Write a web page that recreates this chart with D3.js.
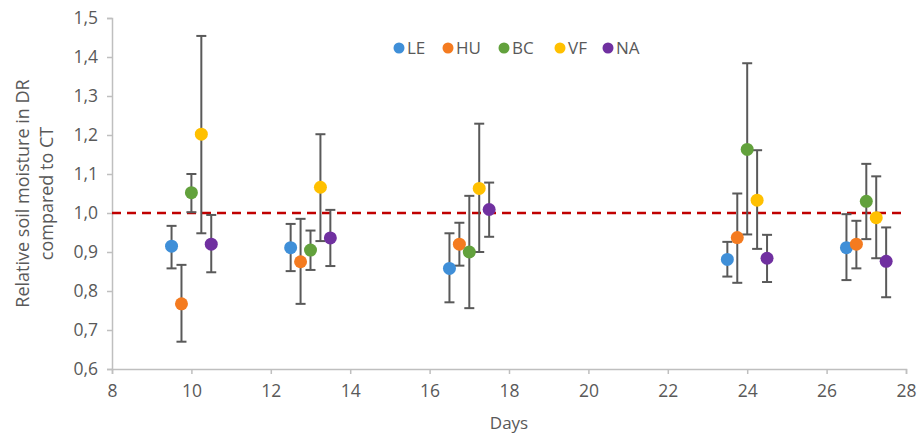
<!DOCTYPE html>
<html>
<head>
<meta charset="utf-8">
<script src="https://cdn.jsdelivr.net/npm/d3@7"></script>
<style>
  body { margin: 0; background: #fff; }
  text { font-family: "Open Sans", "Noto Sans", sans-serif; fill: #595959; }
</style>
</head>
<body>
<div class="chart"></div>
<script>
// soil moisture ratio DR / CT, mean +- error per treatment

var days = [10, 13, 17, 24, 27];
var series = ["LE", "HU", "BC", "VF", "NA"];
var offsets = [-0.5, -0.25, 0, 0.25, 0.5];
var colors = ["#3f8fd8", "#f47b20", "#62a13c", "#ffc000", "#7030a0"];

var meanLE = [0.915, 0.911, 0.858, 0.881, 0.911];
var meanHU = [0.767, 0.875, 0.920, 0.937, 0.920];
var meanBC = [1.052, 0.905, 0.900, 1.163, 1.030];
var meanVF = [1.202, 1.066, 1.063, 1.033, 0.988];
var meanNA = [0.920, 0.936, 1.009, 0.884, 0.876];

var hiLE = [0.967, 0.972, 0.948, 0.926, 0.997];
var hiHU = [0.867, 0.985, 0.975, 1.050, 0.980];
var hiBC = [1.100, 0.955, 1.044, 1.384, 1.126];
var hiVF = [1.454, 1.202, 1.229, 1.161, 1.094];
var hiNA = [0.995, 1.008, 1.078, 0.944, 0.963];

var loLE = [0.858, 0.851, 0.771, 0.837, 0.828];
var loHU = [0.670, 0.767, 0.865, 0.821, 0.858];
var loBC = [1.002, 0.854, 0.756, 0.945, 0.933];
var loVF = [0.948, 0.928, 0.900, 0.908, 0.884];
var loNA = [0.848, 0.864, 0.939, 0.823, 0.784];

var xTicks = [8, 10, 12, 14, 16, 18, 20, 22, 24, 26, 28];
var yTicks = [0.6, 0.7, 0.8, 0.9, 1.0, 1.1, 1.2, 1.3, 1.4, 1.5];
var refValue = 1.0;

var means = [meanLE, meanHU, meanBC, meanVF, meanNA];
var his = [hiLE, hiHU, hiBC, hiVF, hiNA];
var los = [loLE, loHU, loBC, loVF, loNA];

var margin = {top: 18, right: 16, bottom: 66, left: 112},
    width = 922 - margin.left - margin.right,
    height = 435 - margin.top - margin.bottom;

var x = d3.scaleLinear().domain([8, 28]).range([0, width]);
var y = d3.scaleLinear().domain([0.6, 1.5]).range([height, 0]);

var svg = d3.select(".chart").append("svg")
    .attr("width", 922)
    .attr("height", 435)
  .append("g")
    .attr("transform", "translate(" + margin.left + "," + margin.top + ")");

// flatten into points
var points = [];
series.forEach(function(s, i) {
  days.forEach(function(d, j) {
    points.push({s: i, day: d + offsets[i], v: means[i][j], hi: his[i][j], lo: los[i][j]});
  });
});

// axes
var fmt = function(d) { return d3.format(".1f")(d).replace(".", ","); };

var gx = svg.append("g")
    .attr("transform", "translate(0," + height + ")")
    .call(d3.axisBottom(x).tickValues(xTicks).tickSize(5).tickPadding(11));
var gy = svg.append("g")
    .call(d3.axisLeft(y).tickValues(yTicks).tickFormat(fmt).tickSize(5).tickPadding(9));

[gx, gy].forEach(function(g) {
  g.attr("font-family", null);
  g.select(".domain").attr("stroke", "#bfbfbf").attr("stroke-width", 1.5);
  g.selectAll(".tick line").attr("stroke", "#bfbfbf").attr("stroke-width", 1.5);
  g.selectAll(".tick text").style("font-size", "17.5px").attr("fill", "#595959");
});

// reference line
svg.append("line")
    .attr("x1", x(8)).attr("x2", x(28))
    .attr("y1", y(refValue)).attr("y2", y(refValue))
    .attr("stroke", "#c00000")
    .attr("stroke-width", 2.5)
    .attr("stroke-dasharray", "9,6");

// error bars
var eb = svg.append("g").attr("stroke", "#595959").attr("stroke-width", 2);
eb.selectAll(".bar").data(points).enter().append("line")
    .attr("x1", function(d) { return x(d.day); })
    .attr("x2", function(d) { return x(d.day); })
    .attr("y1", function(d) { return y(d.hi); })
    .attr("y2", function(d) { return y(d.lo); });
eb.selectAll(".capHi").data(points).enter().append("line")
    .attr("x1", function(d) { return x(d.day) - 5; })
    .attr("x2", function(d) { return x(d.day) + 5; })
    .attr("y1", function(d) { return y(d.hi); })
    .attr("y2", function(d) { return y(d.hi); });
eb.selectAll(".capLo").data(points).enter().append("line")
    .attr("x1", function(d) { return x(d.day) - 5; })
    .attr("x2", function(d) { return x(d.day) + 5; })
    .attr("y1", function(d) { return y(d.lo); })
    .attr("y2", function(d) { return y(d.lo); });

// markers
svg.append("g").selectAll("circle").data(points).enter().append("circle")
    .attr("cx", function(d) { return x(d.day); })
    .attr("cy", function(d) { return y(d.v); })
    .attr("r", 6.5)
    .attr("fill", function(d) { return colors[d.s]; });

// axis titles
svg.append("text")
    .attr("x", width / 2)
    .attr("y", height + 60)
    .attr("text-anchor", "middle")
    .style("font-size", "17px")
    .text("Days");

var yt = svg.append("text")
    .attr("transform", "translate(" + (-83) + "," + (height / 2) + ") rotate(-90)")
    .attr("text-anchor", "middle")
    .style("font-size", "18px");
yt.append("tspan").attr("x", 0).attr("dy", 0).text("Relative soil moisture in DR");
yt.append("tspan").attr("x", 0).attr("dy", 24).text("compared  to CT");

// legend
var legX = [287, 336, 392, 448, 496];
var leg = svg.append("g").attr("transform", "translate(0,30)");
series.forEach(function(s, i) {
  leg.append("circle").attr("cx", legX[i]).attr("cy", 0).attr("r", 5.5).attr("fill", colors[i]);
  leg.append("text").attr("x", legX[i] + 8).attr("y", 6).style("font-size", "17px").text(s);
});
</script>
</body>
</html>
